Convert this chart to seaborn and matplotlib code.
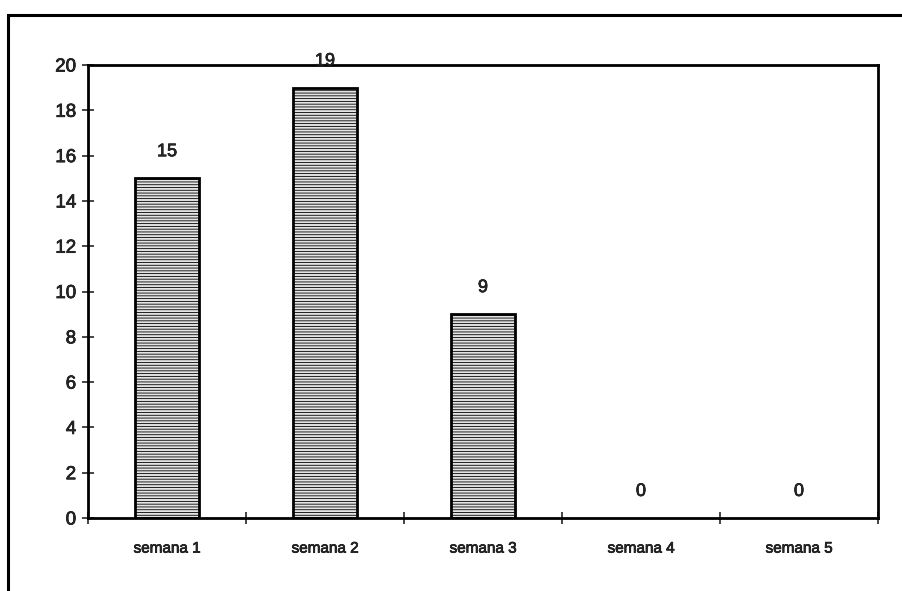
import matplotlib
matplotlib.use("Agg")
import matplotlib.pyplot as plt
import matplotlib.patheffects as pe
import seaborn as sns
import pandas as pd
import numpy as np
from matplotlib.patches import Rectangle

semanas = ["semana 1", "semana 2", "semana 3", "semana 4", "semana 5"]
valores = [15, 19, 9, 0, 0]
y_ticks = [0, 2, 4, 6, 8, 10, 12, 14, 16, 18, 20]

sns.set_style("white")
plt.rcParams["font.family"] = ["Liberation Sans", "DejaVu Sans"]
plt.rcParams["hatch.color"] = "#ababab"
plt.rcParams["hatch.linewidth"] = 0.6

df = pd.DataFrame({"semana": semanas, "valor": valores})

fig = plt.figure(figsize=(9.03, 5.91), dpi=100)
# outer chart-area frame
fig.patches.append(Rectangle((8 / 903, -0.05), 1.05, 1 - 15 / 591 + 0.05,
                             transform=fig.transFigure, fill=False,
                             edgecolor="black", linewidth=2.2, zorder=0))
ax = fig.add_axes([88 / 903, 1 - 518 / 591, (878 - 88) / 903, (518 - 65) / 591])

sns.barplot(data=df, x="semana", y="valor", ax=ax, color="#e4e4e4",
            width=0.405, edgecolor="black", linewidth=2.0, saturation=1)
for bar, v in zip(ax.patches, valores):
    bar.set_hatch("------")
    if v == 0:
        bar.set_linewidth(0)

ax.set_ylim(0, 20)
ax.set_xlim(-0.5, len(semanas) - 0.5)
ax.set_yticks(y_ticks)
ax.set_xlabel("")
ax.set_ylabel("")

heavy = [pe.withStroke(linewidth=0.5, foreground="black")]

for i, v in enumerate(valores):
    ax.annotate(str(v), (i, v), xytext=(0, 13), textcoords="offset points",
                ha="center", va="bottom", fontsize=13, path_effects=heavy)

for s in ax.spines.values():
    s.set_color("black")
    s.set_linewidth(2.0)
    s.set_visible(True)

ax.tick_params(axis="y", which="major", direction="inout", length=9, width=1.2,
               labelsize=13.5, pad=4, left=True)
ax.tick_params(axis="x", which="major", length=0, labelsize=11, pad=17)
ax.set_xticks(np.arange(-0.5, len(semanas), 1.0), minor=True)
ax.tick_params(axis="x", which="minor", direction="inout", length=9, width=1.2,
               bottom=True)
for lab in ax.get_xticklabels() + ax.get_yticklabels():
    lab.set_path_effects(heavy)

fig.savefig("out.png", dpi=100, facecolor="white")
